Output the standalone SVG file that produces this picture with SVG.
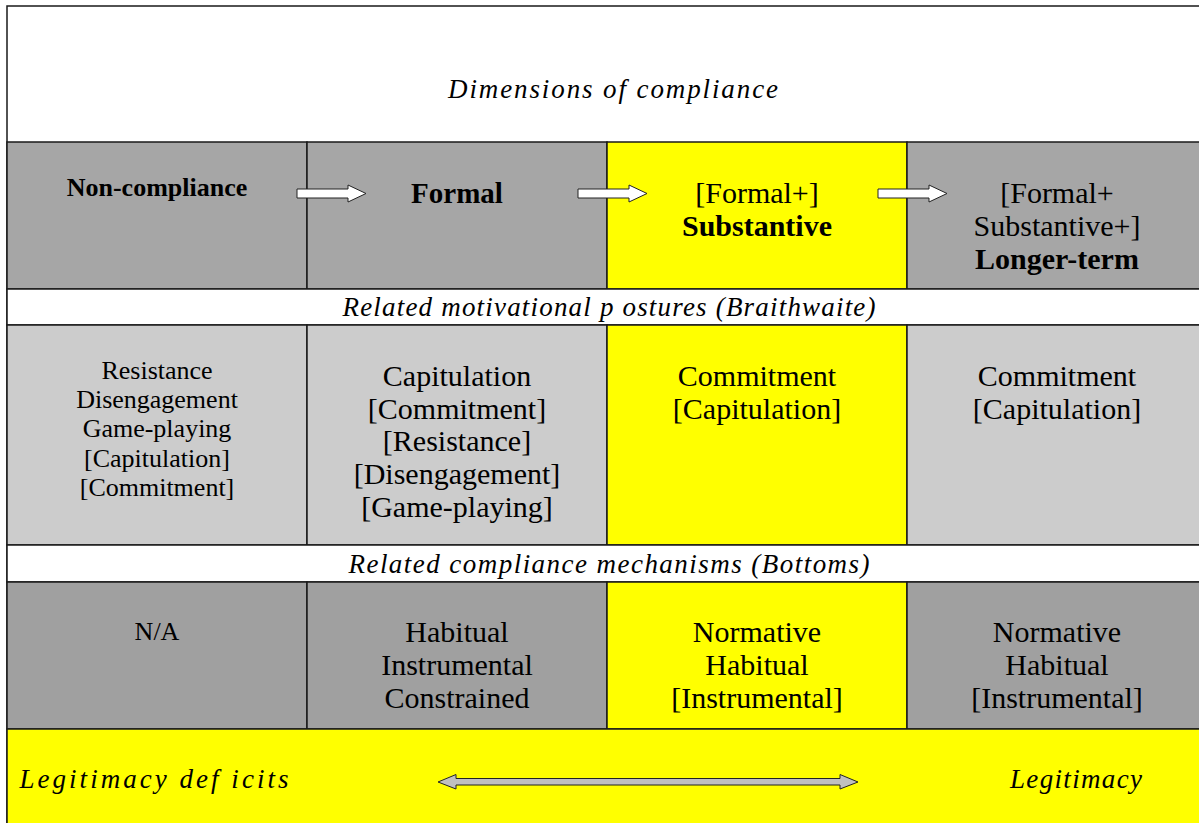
<svg xmlns="http://www.w3.org/2000/svg" width="1199" height="823" viewBox="0 0 1199 823">
<style>
text{font-family:"Liberation Serif","Times New Roman",serif;fill:#000;text-anchor:middle}
.it{font-style:italic;font-size:27px}
.b{font-weight:bold}
.cell{stroke:#1a1a1a;stroke-width:1.5}
.arr{fill:#fff;stroke:#222;stroke-width:1}
.c1{font-size:26px}
.c{font-size:30px}
</style>
<rect x="7" y="6" width="1195" height="830" fill="#fff" stroke="#1a1a1a" stroke-width="1.5"/>
<g id="title"><text class="it" x="613" y="98" textLength="330" lengthAdjust="spacing">Dimensions of  compliance</text></g>
<g id="row1">
<rect class="cell" x="7" y="142" width="300" height="147" fill="#a6a6a6"/>
<rect class="cell" x="307" y="142" width="300" height="147" fill="#a6a6a6"/>
<rect class="cell" x="607" y="142" width="300" height="147" fill="#ffff00"/>
<rect class="cell" x="907" y="142" width="300" height="147" fill="#a6a6a6"/>
</g>
<g id="n-noncompliance"><text class="b c1" x="157" y="196">Non-compliance</text></g>
<g id="n-formal"><text class="b" x="457" y="203" font-size="29">Formal</text></g>
<g id="n-substantive"><text class="c" x="757" y="203">[Formal+]</text><text class="b c" x="757" y="236">Substantive</text></g>
<g id="n-longer"><text class="c" x="1057" y="203">[Formal+</text><text class="c" x="1057" y="236">Substantive+]</text><text class="b c" x="1057" y="269">Longer-term</text></g>
<g id="band1"><rect class="cell" x="7" y="289" width="1200" height="36" fill="#fff"/><text class="it" x="609" y="316" textLength="533" lengthAdjust="spacing">Related motivational p ostures (Braithwaite)</text></g>
<g id="row2">
<rect class="cell" x="7" y="325" width="300" height="220" fill="#cccccc"/>
<rect class="cell" x="307" y="325" width="300" height="220" fill="#cccccc"/>
<rect class="cell" x="607" y="325" width="300" height="220" fill="#ffff00"/>
<rect class="cell" x="907" y="325" width="300" height="220" fill="#cccccc"/>
</g>
<g id="p-col1" class="c1"><text x="157" y="379">Resistance</text><text x="157" y="408">Disengagement</text><text x="157" y="437">Game-playing</text><text x="157" y="467">[Capitulation]</text><text x="157" y="496">[Commitment]</text></g>
<g id="p-col2" class="c"><text x="457" y="386">Capitulation</text><text x="457" y="419">[Commitment]</text><text x="457" y="451">[Resistance]</text><text x="457" y="484">[Disengagement]</text><text x="457" y="517">[Game-playing]</text></g>
<g id="p-col3" class="c"><text x="757" y="386">Commitment</text><text x="757" y="419">[Capitulation]</text></g>
<g id="p-col4" class="c"><text x="1057" y="386">Commitment</text><text x="1057" y="419">[Capitulation]</text></g>
<g id="band2"><rect class="cell" x="7" y="545" width="1200" height="37" fill="#fff"/><text class="it" x="609" y="573" textLength="521" lengthAdjust="spacing">Related compliance mechanisms (Bottoms)</text></g>
<g id="row3">
<rect class="cell" x="7" y="582" width="300" height="147" fill="#a0a0a0"/>
<rect class="cell" x="307" y="582" width="300" height="147" fill="#a0a0a0"/>
<rect class="cell" x="607" y="582" width="300" height="147" fill="#ffff00"/>
<rect class="cell" x="907" y="582" width="300" height="147" fill="#a0a0a0"/>
</g>
<g id="m-col1"><text class="c1" x="157" y="640">N/A</text></g>
<g id="m-col2" class="c"><text x="457" y="642">Habitual</text><text x="457" y="675">Instrumental</text><text x="457" y="708">Constrained</text></g>
<g id="m-col3" class="c"><text x="757" y="642">Normative</text><text x="757" y="675">Habitual</text><text x="757" y="708">[Instrumental]</text></g>
<g id="m-col4" class="c"><text x="1057" y="642">Normative</text><text x="1057" y="675">Habitual</text><text x="1057" y="708">[Instrumental]</text></g>
<g id="legitimacy">
<rect class="cell" x="7" y="729" width="1200" height="110" fill="#ffff00"/>
<text class="it" x="154" y="788" textLength="269" lengthAdjust="spacing">Legitimacy def icits</text>
<text class="it" x="1076" y="788" textLength="132" lengthAdjust="spacing">Legitimacy</text>
</g>
<g id="connectors">
<path class="arr" d="M297,189 H348 V185 L366,193.5 L348,202 V198 H297 Z"/>
<path class="arr" d="M578,189 H629 V185 L647,193.5 L629,202 V198 H578 Z"/>
<path class="arr" d="M878,189 H929 V185 L947,193.5 L929,202 V198 H878 Z"/>
<path d="M438,782 L456,774.5 V778.5 H840 V774.5 L858,782 L840,789 V785 H456 V789 Z" fill="#c0c0c0" stroke="#222" stroke-width="1"/>
</g>
</svg>
